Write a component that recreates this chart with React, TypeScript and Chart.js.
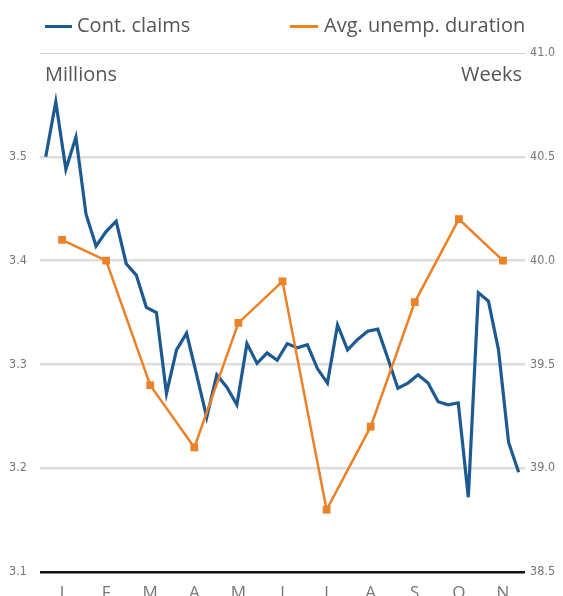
import React, { useEffect, useRef } from "react";
import { Chart, registerables } from "chart.js";

Chart.register(...registerables);

const MONTHS = ["J", "F", "M", "A", "M", "J", "J", "A", "S", "O", "N"];

// Weekly continuing claims (millions)
const CLAIMS = [
  3.500, 3.553, 3.488, 3.519, 3.445, 3.414, 3.428, 3.438, 3.397, 3.386, 3.355, 3.350,
  3.272, 3.314, 3.330, 3.290, 3.249, 3.290, 3.278, 3.261, 3.320, 3.301, 3.311, 3.304,
  3.320, 3.316, 3.319, 3.296, 3.282, 3.338, 3.314, 3.324, 3.332, 3.334, 3.306, 3.277,
  3.282, 3.290, 3.282, 3.264, 3.261, 3.263, 3.172, 3.369, 3.361, 3.314, 3.225, 3.196,
];

// Monthly average unemployment duration (weeks)
const DURATION = [40.1, 40.0, 39.4, 39.1, 39.7, 39.9, 38.8, 39.2, 39.8, 40.2, 40.0];

const LEFT_TICKS = [3.1, 3.2, 3.3, 3.4, 3.5, 3.6];
const RIGHT_TICKS = [38.5, 39.0, 39.5, 40.0, 40.5, 41.0];

const FIRST_WEEK = 0.13; // position of first weekly point, in months
const WEEK_STEP = 0.2282; // months per week

const BLUE = "#1d5a91";
const ORANGE = "#eb8128";

export default function App() {
  const ref = useRef<HTMLCanvasElement>(null);

  useEffect(() => {
    if (!ref.current) return;
    const claimsData = CLAIMS.map((v, i) => ({ x: FIRST_WEEK + i * WEEK_STEP, y: v }));
    const durData = DURATION.map((v, i) => ({ x: i + 0.5, y: v }));
    const tickFont = { family: "'DejaVu Sans Condensed', 'Liberation Sans Narrow', sans-serif", size: 12.5 };
    const chart = new Chart(ref.current, {
      type: "line",
      data: {
        datasets: [
          {
            label: "Avg. unemp. duration",
            data: durData,
            yAxisID: "y2",
            borderColor: ORANGE,
            backgroundColor: ORANGE,
            borderWidth: 2.5,
            pointStyle: "rect",
            pointRadius: 5.5,
            pointBorderWidth: 0,
            tension: 0,
          },
          {
            label: "Cont. claims",
            data: claimsData,
            yAxisID: "y",
            borderColor: BLUE,
            backgroundColor: BLUE,
            borderWidth: 3.2,
            pointRadius: 0,
            tension: 0,
            borderJoinStyle: "miter",
          },
        ],
      },
      options: {
        animation: false,
        responsive: false,
        maintainAspectRatio: false,
        layout: { padding: { top: 53, left: 0, right: 0, bottom: 0 } },
        plugins: { legend: { display: false }, tooltip: { enabled: false } },
        scales: {
          x: {
            type: "linear",
            min: 0,
            max: 11,
            grid: { display: false },
            border: { display: false },
            afterBuildTicks: (s: any) => {
              s.ticks = MONTHS.map((_, i) => ({ value: i + 0.5 }));
            },
            afterFit: (s: any) => {
              s.height = 24;
            },
            ticks: {
              autoSkip: false,
              maxRotation: 0,
              padding: 3,
              color: "#777",
              font: { family: "'Open Sans', sans-serif", size: 17 },
              callback: (v: any) => MONTHS[Math.round(Number(v) - 0.5)] ?? "",
            },
          },
          y: {
            position: "left",
            min: 3.1,
            max: 3.6,
            border: { display: false },
            afterBuildTicks: (s: any) => {
              s.ticks = LEFT_TICKS.map((v) => ({ value: v }));
            },
            afterFit: (s: any) => {
              s.width = 40;
            },
            grid: {
              drawTicks: false,
              color: (c: any) => {
                const v = c.tick ? c.tick.value : 0;
                if (Math.abs(v - 3.1) < 1e-6) return "#111";
                if (Math.abs(v - 3.6) < 1e-6) return "#cfcfcf";
                return "#dddddd";
              },
              lineWidth: (c: any) => {
                const v = c.tick ? c.tick.value : 0;
                if (Math.abs(v - 3.6) < 1e-6) return 1;
                return 2.5;
              },
            },
            ticks: {
              padding: 13,
              color: "#777",
              font: tickFont,
              callback: (v: any) => (Math.abs(Number(v) - 3.6) < 1e-6 ? "" : Number(v).toFixed(1)),
            },
          },
          y2: {
            position: "right",
            min: 38.5,
            max: 41,
            border: { display: false },
            grid: { display: false, drawTicks: false },
            afterBuildTicks: (s: any) => {
              s.ticks = RIGHT_TICKS.map((v) => ({ value: v }));
            },
            afterFit: (s: any) => {
              s.width = 38;
            },
            ticks: {
              padding: 5,
              color: "#777",
              font: tickFont,
              callback: (v: any) => Number(v).toFixed(1),
            },
          },
        },
      },
    });
    return () => chart.destroy();
  }, []);

  const textStyle: React.CSSProperties = {
    position: "absolute",
    fontFamily: "'Open Sans', sans-serif",
    color: "#555",
    whiteSpace: "nowrap",
    lineHeight: "24px",
  };

  return (
    <div style={{ position: "fixed", left: 0, top: 0, width: 563, height: 596, background: "#fff", overflow: "hidden" }}>
      <canvas ref={ref} width={563} height={596} style={{ position: "absolute", left: 0, top: 0 }} />
      <div style={{ position: "absolute", left: 45, top: 25, width: 27, height: 3, background: BLUE }} />
      <div style={{ ...textStyle, left: 77, top: 13, fontSize: 20 }}>Cont. claims</div>
      <div style={{ position: "absolute", left: 290, top: 25, width: 28, height: 3, background: ORANGE }} />
      <div style={{ ...textStyle, left: 324, top: 13, fontSize: 20 }}>Avg. unemp. duration</div>
      <div style={{ ...textStyle, left: 45, top: 62, fontSize: 20 }}>Millions</div>
      <div style={{ ...textStyle, right: 563 - 522, top: 62, fontSize: 20 }}>Weeks</div>
    </div>
  );
}
